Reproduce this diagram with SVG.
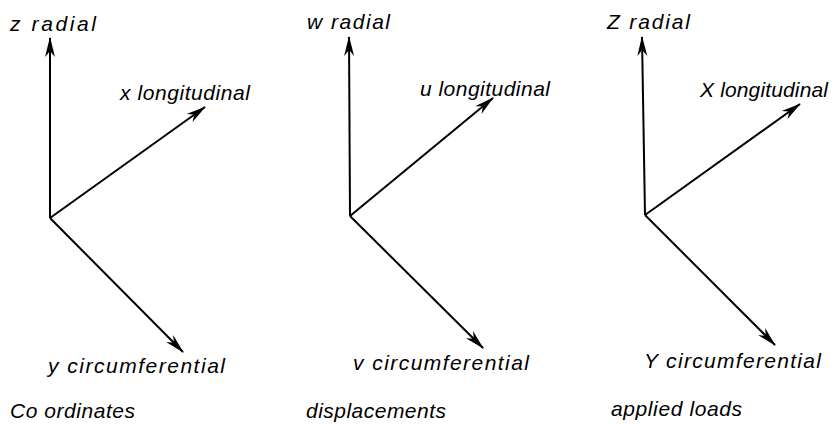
<svg xmlns="http://www.w3.org/2000/svg" width="834" height="424" viewBox="0 0 834 424">
<style>
text{font-family:"Liberation Sans",Arial,sans-serif;font-style:italic;font-size:21px;fill:#000}
.ax{stroke:#000;stroke-width:2;fill:none;marker-end:url(#ah)}
</style>
<defs>
<marker id="ah" viewBox="0 0 20 10" refX="19" refY="5" markerWidth="20" markerHeight="11" markerUnits="userSpaceOnUse" orient="auto">
<path d="M0,0 L20,5 L0,10 L6,5 Z" fill="#000"/>
</marker>
</defs>
<rect width="834" height="424" fill="#fff"/>
<g id="connectors">
<path class="ax" d="M50,218 L50,38"/>
<path class="ax" d="M50,218 L205,107"/>
<path class="ax" d="M50,218 L183,352"/>
<path class="ax" d="M350,216 L349,37"/>
<path class="ax" d="M350,216 L493,98"/>
<path class="ax" d="M350,216 L483,348"/>
<path class="ax" d="M645,215 L642,37"/>
<path class="ax" d="M645,215 L800,104"/>
<path class="ax" d="M645,215 L775,345"/>
</g>
<g id="coordinates">
<text x="10" y="31" textLength="86" lengthAdjust="spacing">z radial</text>
<text x="120" y="100" textLength="130" lengthAdjust="spacing">x longitudinal</text>
<text x="48" y="373" textLength="177" lengthAdjust="spacing">y circumferential</text>
<text x="10" y="418" textLength="125" lengthAdjust="spacing">Co ordinates</text>
</g>
<g id="displacements">
<text x="307" y="29" textLength="83" lengthAdjust="spacing">w radial</text>
<text x="420" y="96" textLength="130" lengthAdjust="spacing">u longitudinal</text>
<text x="353" y="370" textLength="176" lengthAdjust="spacing">v circumferential</text>
<text x="306" y="418" textLength="140" lengthAdjust="spacing">displacements</text>
</g>
<g id="applied-loads">
<text x="607" y="29" textLength="83" lengthAdjust="spacing">Z radial</text>
<text x="700" y="97" textLength="128" lengthAdjust="spacing">X longitudinal</text>
<text x="644" y="368" textLength="177" lengthAdjust="spacing">Y circumferential</text>
<text x="611" y="416" textLength="131" lengthAdjust="spacing">applied loads</text>
</g>
</svg>
